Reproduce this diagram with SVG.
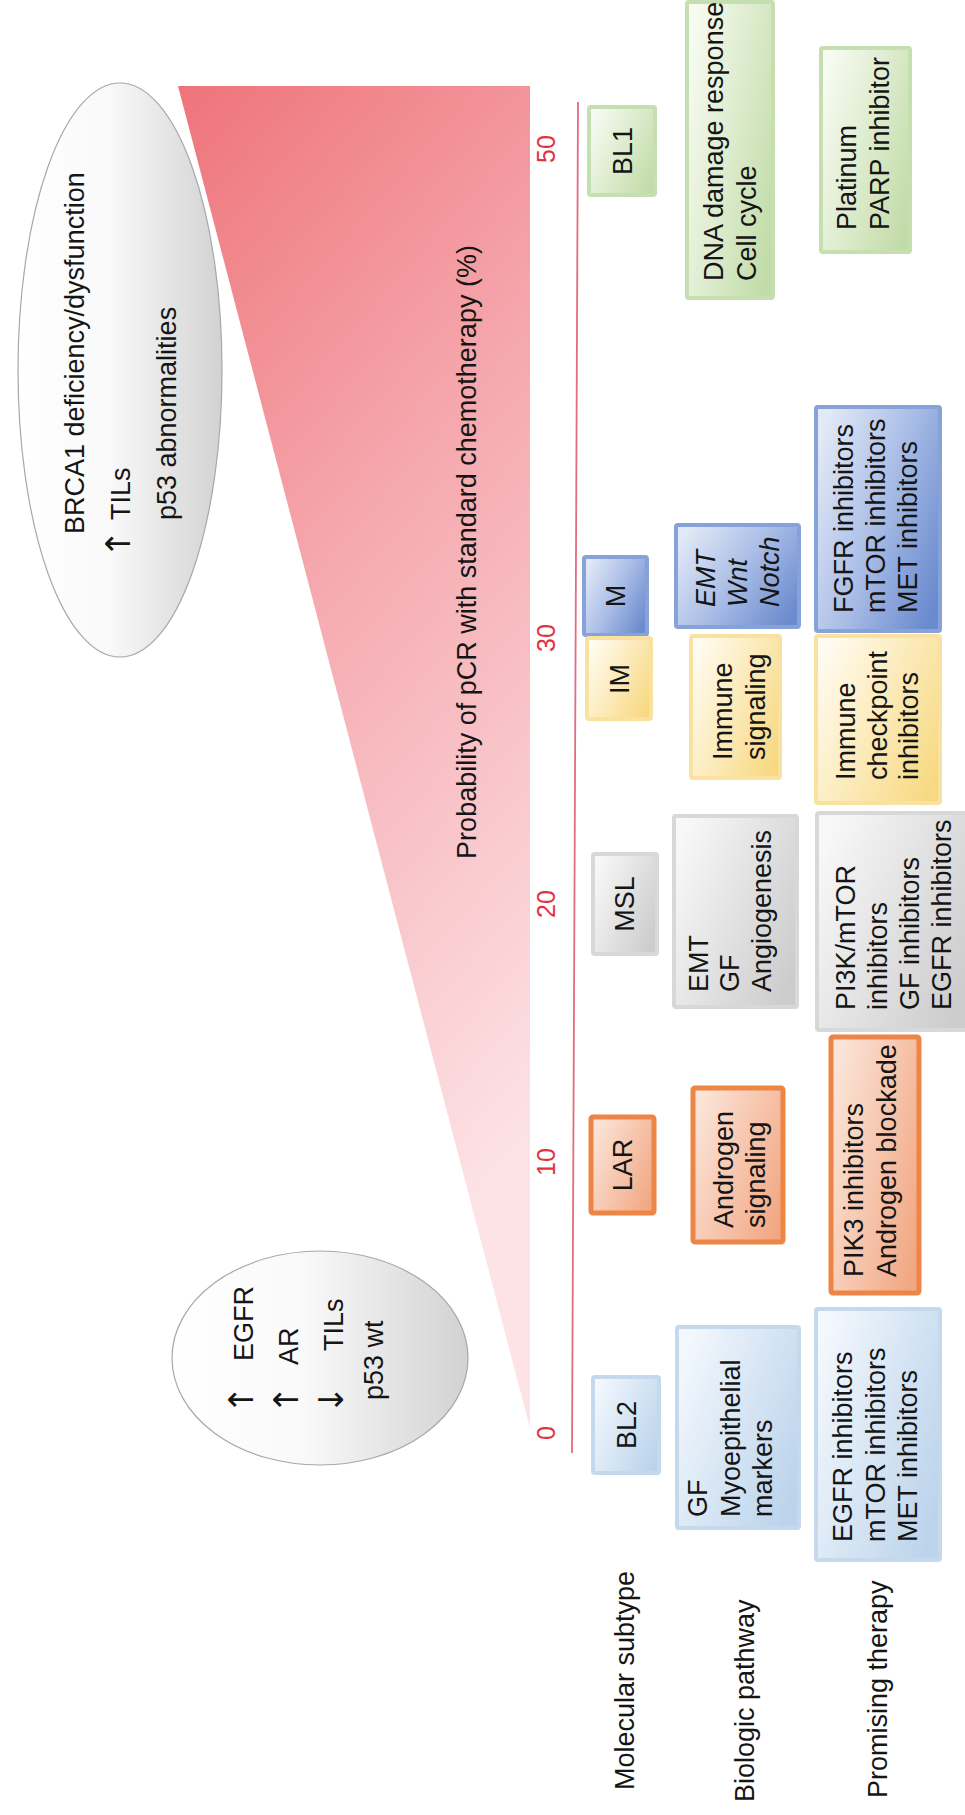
<svg xmlns="http://www.w3.org/2000/svg" width="965" height="1815" viewBox="0 0 965 1815">
<defs>
  <linearGradient id="gTri" x1="0" y1="0" x2="0.3" y2="1">
    <stop offset="0" stop-color="#ee747a"/>
    <stop offset="0.45" stop-color="#f5a9af"/>
    <stop offset="1" stop-color="#fde3e6"/>
  </linearGradient>
  <linearGradient id="gEll" x1="0" y1="0" x2="1" y2="0">
    <stop offset="0" stop-color="#ffffff"/>
    <stop offset="0.45" stop-color="#f9f9f9"/>
    <stop offset="1" stop-color="#d2d2d2"/>
  </linearGradient>
  <linearGradient id="gGreen" x1="0" y1="0.2" x2="1" y2="0.8">
    <stop offset="0" stop-color="#f7fbf2"/>
    <stop offset="1" stop-color="#c2dca8"/>
  </linearGradient>
  <linearGradient id="gBlue" x1="0" y1="0.2" x2="1" y2="0.8">
    <stop offset="0" stop-color="#e2e9f7"/>
    <stop offset="0.5" stop-color="#a9bde6"/>
    <stop offset="1" stop-color="#6b8bce"/>
  </linearGradient>
  <linearGradient id="gYellow" x1="0" y1="0.2" x2="1" y2="0.8">
    <stop offset="0" stop-color="#fffbf0"/>
    <stop offset="1" stop-color="#f8d982"/>
  </linearGradient>
  <linearGradient id="gGray" x1="0" y1="0.2" x2="1" y2="0.8">
    <stop offset="0" stop-color="#f8f8f8"/>
    <stop offset="1" stop-color="#cccccc"/>
  </linearGradient>
  <linearGradient id="gOrange" x1="0" y1="0.2" x2="1" y2="0.8">
    <stop offset="0" stop-color="#fbe5d9"/>
    <stop offset="1" stop-color="#f2a783"/>
  </linearGradient>
  <linearGradient id="gLblue" x1="0" y1="0.2" x2="1" y2="0.8">
    <stop offset="0" stop-color="#f3f8fd"/>
    <stop offset="1" stop-color="#bbd3eb"/>
  </linearGradient>
</defs>
<style>
  text { font-family: "Liberation Sans", Arial, sans-serif; font-size: 27px; fill: #151515; }
  .arr { font-family: "DejaVu Sans", sans-serif; font-size: 34px; }
  .tick { fill: #e2323f; font-size: 25px; }
  .it { font-style: italic; }
  .ell { fill: url(#gEll); stroke: #a8a8a8; stroke-width: 1.2; }
  .green { fill: url(#gGreen); stroke: #c6dfb1; stroke-width: 4; }
  .blue { fill: url(#gBlue); stroke: #86a2d9; stroke-width: 4; }
  .yellow { fill: url(#gYellow); stroke: #f9e2a0; stroke-width: 4; }
  .gray { fill: url(#gGray); stroke: #d8d8d8; stroke-width: 4; }
  .orange { fill: url(#gOrange); stroke: #ec8545; stroke-width: 5; }
  .lblue { fill: url(#gLblue); stroke: #c4d9ee; stroke-width: 4; }
</style>
<rect width="965" height="1815" fill="#ffffff"/>

<g id="wedge">
  <polygon points="178,86 530,86 530,1428" fill="url(#gTri)"/>
</g>

<g id="connectors">
  <line x1="578" y1="102" x2="572" y2="1453" stroke="#e36c82" stroke-width="1.8"/>
</g>

<g id="axis-labels" transform="rotate(-90)">
  <text x="-552" y="476" text-anchor="middle">Probability of pCR with standard chemotherapy (%)</text>
  <text class="tick" x="-149" y="555" text-anchor="middle">50</text>
  <text class="tick" x="-638" y="555" text-anchor="middle">30</text>
  <text class="tick" x="-904" y="555" text-anchor="middle">20</text>
  <text class="tick" x="-1162" y="555" text-anchor="middle">10</text>
  <text class="tick" x="-1433" y="555" text-anchor="middle">0</text>
</g>

<g id="ellipse-high">
  <ellipse class="ell" cx="120" cy="370" rx="102" ry="287"/>
  <g transform="rotate(-90)">
    <text x="-534" y="84">BRCA1 deficiency/dysfunction</text>
    <text y="130"><tspan class="arr" x="-558">↑</tspan><tspan x="-520">TILs</tspan></text>
    <text x="-520" y="176">p53 abnormalities</text>
  </g>
</g>

<g id="ellipse-low">
  <ellipse class="ell" cx="320" cy="1358" rx="148" ry="107"/>
  <g transform="rotate(-90)">
    <text y="253"><tspan class="arr" x="-1414">↑</tspan><tspan x="-1361">EGFR</tspan></text>
    <text y="298"><tspan class="arr" x="-1414">↑</tspan><tspan x="-1365">AR</tspan></text>
    <text y="343"><tspan class="arr" x="-1414">↓</tspan><tspan x="-1351">TILs</tspan></text>
    <text x="-1400" y="383">p53 wt</text>
  </g>
</g>

<g id="bl1">
  <rect class="green" x="589" y="107" width="66" height="88" rx="2"/>
  <text transform="rotate(-90)" x="-151" y="632" text-anchor="middle">BL1</text>
</g>
<g id="bl1-pathway">
  <rect class="green" x="687" y="2" width="86" height="296" rx="2"/>
  <text transform="rotate(-90)"><tspan x="-281" y="723">DNA damage response</tspan><tspan x="-281" y="756">Cell cycle</tspan></text>
</g>
<g id="bl1-therapy">
  <rect class="green" x="821" y="48" width="89" height="204" rx="2"/>
  <text transform="rotate(-90)"><tspan x="-230" y="856">Platinum</tspan><tspan x="-230" y="889">PARP inhibitor</tspan></text>
</g>

<g id="m">
  <rect class="blue" x="584" y="557" width="63" height="78" rx="2"/>
  <text transform="rotate(-90)" x="-596" y="625" text-anchor="middle">M</text>
</g>
<g id="m-pathway">
  <rect class="blue" x="676" y="525" width="123" height="102" rx="2"/>
  <text class="it" transform="rotate(-90)"><tspan x="-607" y="715">EMT</tspan><tspan x="-607" y="747">Wnt</tspan><tspan x="-607" y="779">Notch</tspan></text>
</g>
<g id="m-therapy">
  <rect class="blue" x="816" y="407" width="124" height="224" rx="2"/>
  <text transform="rotate(-90)"><tspan x="-613" y="853">FGFR inhibitors</tspan><tspan x="-613" y="885">mTOR inhibitors</tspan><tspan x="-613" y="917">MET inhibitors</tspan></text>
</g>

<g id="im">
  <rect class="yellow" x="587" y="638" width="64" height="81" rx="2"/>
  <text transform="rotate(-90)" x="-679" y="629" text-anchor="middle">IM</text>
</g>
<g id="im-pathway">
  <rect class="yellow" x="691" y="636" width="89" height="142" rx="2"/>
  <text transform="rotate(-90)"><tspan x="-760" y="732">Immune</tspan><tspan x="-760" y="765">signaling</tspan></text>
</g>
<g id="im-therapy">
  <rect class="yellow" x="816" y="636" width="124" height="167" rx="2"/>
  <text transform="rotate(-90)"><tspan x="-780" y="855">Immune</tspan><tspan x="-780" y="887">checkpoint</tspan><tspan x="-780" y="918">inhibitors</tspan></text>
</g>

<g id="msl">
  <rect class="gray" x="593" y="854" width="64" height="100" rx="2"/>
  <text transform="rotate(-90)" x="-904" y="634" text-anchor="middle">MSL</text>
</g>
<g id="msl-pathway">
  <rect class="gray" x="674" y="816" width="123" height="191" rx="2"/>
  <text transform="rotate(-90)"><tspan x="-992" y="708">EMT</tspan><tspan x="-992" y="739">GF</tspan><tspan x="-992" y="771">Angiogenesis</tspan></text>
</g>
<g id="msl-therapy">
  <rect class="gray" x="817" y="813" width="152" height="217" rx="2"/>
  <text transform="rotate(-90)"><tspan x="-1010" y="855">PI3K/mTOR</tspan><tspan x="-1010" y="887">inhibitors</tspan><tspan x="-1010" y="919">GF inhibitors</tspan><tspan x="-1010" y="951">EGFR inhibitors</tspan></text>
</g>

<g id="lar">
  <rect class="orange" x="591" y="1117" width="63" height="96" rx="2"/>
  <text transform="rotate(-90)" x="-1165" y="632" text-anchor="middle">LAR</text>
</g>
<g id="lar-pathway">
  <rect class="orange" x="693" y="1088" width="90" height="154" rx="2"/>
  <text transform="rotate(-90)"><tspan x="-1228" y="733">Androgen</tspan><tspan x="-1228" y="765">signaling</tspan></text>
</g>
<g id="lar-therapy">
  <rect class="orange" x="831" y="1037" width="88" height="256" rx="2"/>
  <text transform="rotate(-90)"><tspan x="-1277" y="863">PIK3 inhibitors</tspan><tspan x="-1277" y="896">Androgen blockade</tspan></text>
</g>

<g id="bl2">
  <rect class="lblue" x="593" y="1377" width="66" height="96" rx="2"/>
  <text transform="rotate(-90)" x="-1425" y="636" text-anchor="middle">BL2</text>
</g>
<g id="bl2-pathway">
  <rect class="lblue" x="677" y="1327" width="122" height="201" rx="2"/>
  <text transform="rotate(-90)"><tspan x="-1517" y="707">GF</tspan><tspan x="-1517" y="740">Myoepithelial</tspan><tspan x="-1517" y="772">markers</tspan></text>
</g>
<g id="bl2-therapy">
  <rect class="lblue" x="816" y="1309" width="124" height="251" rx="2"/>
  <text transform="rotate(-90)"><tspan x="-1542" y="852">EGFR inhibitors</tspan><tspan x="-1542" y="885">mTOR inhibitors</tspan><tspan x="-1542" y="917">MET inhibitors</tspan></text>
</g>

<g id="row-labels" transform="rotate(-90)">
  <text x="-1790" y="634">Molecular subtype</text>
  <text x="-1802" y="754">Biologic pathway</text>
  <text x="-1798" y="887">Promising therapy</text>
</g>
</svg>
